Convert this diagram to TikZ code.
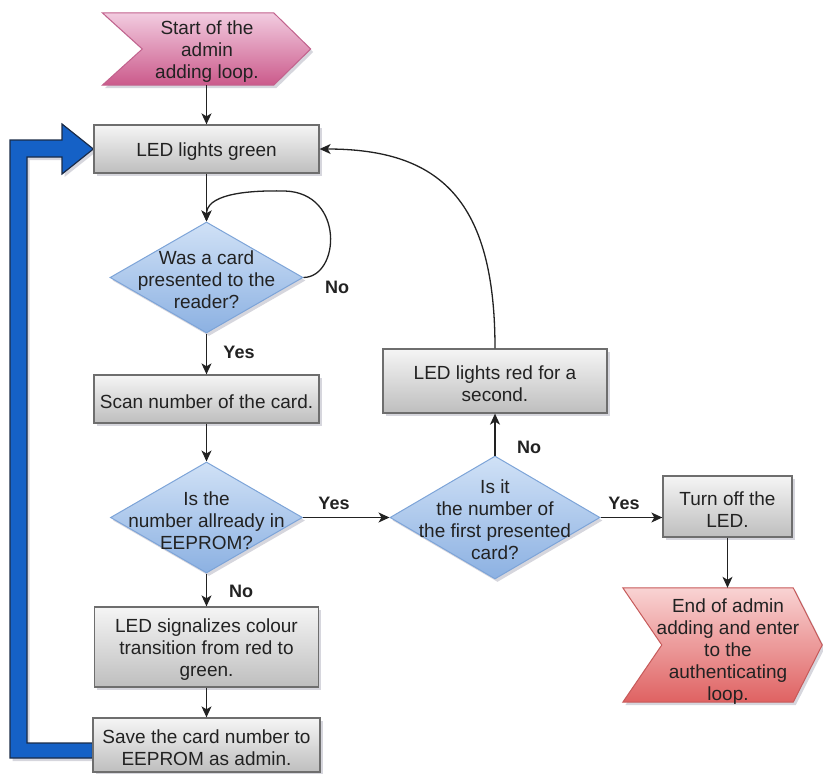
\documentclass[tikz,border=0pt]{standalone}
\usepackage{fontspec}
\setmainfont{Liberation Sans}
\usetikzlibrary{arrows.meta,shapes.geometric,shadows,calc}

\definecolor{ink}{HTML}{222222}
\definecolor{boxtop}{HTML}{F5F5F5}
\definecolor{boxbot}{HTML}{BEBEBE}
\definecolor{boxline}{HTML}{6E6E6E}
\definecolor{dectop}{HTML}{D0E1F6}
\definecolor{decbot}{HTML}{8CB1E2}
\definecolor{decline}{HTML}{7DA4D8}
\definecolor{pinktop}{HTML}{F2CCE0}
\definecolor{pinkbot}{HTML}{CB5A8B}
\definecolor{pinkline}{HTML}{C2628D}
\definecolor{redtop}{HTML}{F9D3D3}
\definecolor{redbot}{HTML}{DF6262}
\definecolor{redline}{HTML}{C65A5A}
\definecolor{loopblue}{HTML}{1561C6}
\definecolor{loopline}{HTML}{1B2C48}
\definecolor{shadowc}{HTML}{5A5A78}

% taller first line so box text sits a little lower
\newcommand{\firstline}{\rule{0pt}{19pt}}

\pgfdeclarelayer{background}
\pgfsetlayers{background,main}

\begin{document}
\begin{tikzpicture}[x=1pt,y=-1pt,
  txt/.style={font=\fontsize{19}{22}\selectfont, text=ink, align=center, inner sep=0pt},
  softshadow/.style={drop shadow={shadow xshift=2.5pt, shadow yshift=-3pt, fill=shadowc, opacity=0.25}},
  procbox/.style={txt, rectangle, draw=boxline, line width=1.3pt, top color=boxtop, bottom color=boxbot, softshadow},
  decision/.style={diamond, draw=decline, line width=1pt, top color=dectop, bottom color=decbot, inner sep=0pt, softshadow},
  chevbox/.style={rectangle, inner sep=0pt},
  startchev/.style={draw=pinkline, line width=1pt, top color=pinktop, bottom color=pinkbot, softshadow},
  endchev/.style={draw=redline, line width=1pt, top color=redtop, bottom color=redbot, softshadow},
  conn/.style={draw=ink, line width=1.3pt, -{Stealth[length=11pt,width=10pt,inset=3pt]}},
  bigarrow/.style={draw=loopline, line width=1.2pt, fill=loopblue, softshadow},
  lab/.style={font=\bfseries\fontsize{18}{20}\selectfont, text=ink, inner sep=0pt},
]
\useasboundingbox (0,0) rectangle (823,774);

% left column
\node[chevbox, minimum width=208, minimum height=72] (start) at (206.5,49) {};
\path[startchev] (start.north west) -- ($(start.north east)+(-37,0)$) -- (start.east)
  -- ($(start.south east)+(-37,0)$) -- (start.south west) -- ($(start.west)+(40,0)$) -- cycle;
\node[txt] (startt) at (207,51.5) {Start of the\\admin\\adding loop.};

\node[procbox, minimum width=225, minimum height=48] (green) at (206.5,149) {\firstline LED lights green};
\node[decision, minimum width=193, minimum height=111] (d1) at (206.5,277.5) {};
\node[txt] (d1t) at (206.5,280) {Was a card\\presented to the\\reader?};
\node[procbox, minimum width=225, minimum height=48] (scan) at (206.5,399) {\firstline Scan number of the card.};
\node[decision, minimum width=192, minimum height=111] (d2) at (206.5,517.5) {};
\node[txt] (d2t) at (206.5,521) {Is the\\number allready in\\EEPROM?};
\node[procbox, minimum width=224, minimum height=80] (sig) at (206.5,647) {\firstline LED signalizes colour\\transition from red to\\green.};
\node[procbox, minimum width=227, minimum height=54] (save) at (206.5,745) {\firstline Save the card number to\\EEPROM as admin.};

% middle and right columns
\node[decision, minimum width=210, minimum height=123] (d3) at (495,517.5) {};
\node[txt] (d3t) at (495,520) {Is it\\the number of\\the first presented\\card?};
\node[procbox, minimum width=224, minimum height=64] (red) at (495,381) {\firstline LED lights red for a\\second.};
\node[procbox, minimum width=129, minimum height=61] (off) at (727.5,506.5) {\firstline Turn off the\\LED.};

\node[chevbox, minimum width=199, minimum height=114] (end) at (722.5,645) {};
\path[endchev] (end.north west) -- ($(end.north east)+(-29,0)$) -- (end.east)
  -- ($(end.south east)+(-29,0)$) -- (end.south west) -- ($(end.west)+(39,0)$) -- cycle;
\node[txt] (endt) at (728,651.5) {End of admin\\adding and enter\\to the\\authenticating\\loop.};

% thick return arrow behind the boxes
\begin{pgfonlayer}{background}
\path[bigarrow] ($(save.west)+(0,13)$) -- (10,758) -- (10,140) -- (62,140) -- (62,124)
  -- (green.west) -- (62,174) -- (62,157) -- (27,157) -- (27,743) -- ($(save.west)+(0,-2)$) -- cycle;
\end{pgfonlayer}

% connectors
\draw[conn] (start.south) -- (green.north);
\draw[conn] (green.south) -- (d1.north);
\draw[conn] (d1.east) .. controls (340,277) and (345,193) .. (285,191)
  .. controls (240,190) and (206.5,196) .. (d1.north);
\draw[conn] (d1.south) -- (scan.north);
\draw[conn] (scan.south) -- (d2.north);
\draw[conn] (d2.east) -- (d3.west);
\draw[conn] (d3.north) -- (red.south);
\draw[conn] (red.north) .. controls (495,200) and (440,149) .. (green.east);
\draw[conn] (d3.east) -- (d3.east -| off.west);
\draw[conn] (off.south) -- (off.south |- end.north);
\draw[conn] (d2.south) -- (sig.north);
\draw[conn] (sig.south) -- (save.north);

% branch labels
\node[lab] (no1) at (337,287) {No};
\node[lab] (yes1) at (239,352) {Yes};
\node[lab] (yes2) at (334,503) {Yes};
\node[lab] (no3) at (529,447) {No};
\node[lab] (yes3) at (624,503) {Yes};
\node[lab] (no2) at (241,591) {No};
\end{tikzpicture}
\end{document}
